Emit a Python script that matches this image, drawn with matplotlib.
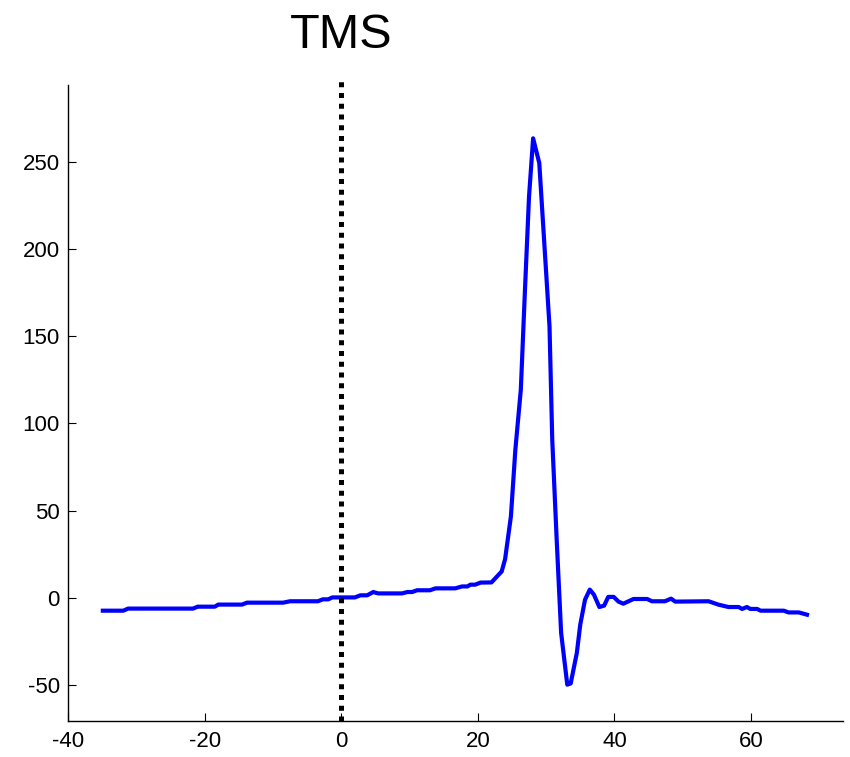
import matplotlib.pyplot as plt
from matplotlib import transforms

plt.rcParams['font.family'] = ['Liberation Sans', 'DejaVu Sans']
plt.rcParams['axes.unicode_minus'] = False  # plain hyphen for negative ticks

# time relative to the pulse (ms) and response amplitude
t = [-34.9, -31.9, -31.2, -21.7, -21.0, -18.5, -18.0, -14.5, -13.8, -8.5,
     -7.5, -3.4, -2.7, -1.9, -1.3, 2.0, 2.8, 3.8, 4.7, 5.4,
     8.9, 9.7, 10.4, 11.1, 13.0, 13.8, 16.7, 17.7, 18.5, 18.9,
     19.6, 20.4, 22.0, 23.5, 24.0, 24.85, 25.5, 26.3, 26.9, 27.5,
     28.1, 29.0, 30.5, 30.9, 31.55, 32.2, 33.1, 33.6, 34.5, 35.0,
     35.7, 36.4, 37.0, 37.8, 38.5, 39.1, 39.9, 40.6, 41.3, 42.8,
     44.8, 45.5, 47.4, 48.3, 48.9, 53.8, 55.2, 56.7, 58.2, 58.7,
     59.4, 59.9, 60.9, 61.4, 64.8, 65.5, 67.0, 68.2]
amp = [-7.3, -7.3, -6.1, -6.1, -5.0, -5.0, -3.8, -3.8, -2.7, -2.7,
       -1.9, -1.9, -0.8, -0.8, 0.3, 0.3, 1.5, 1.5, 3.4, 2.6,
       2.6, 3.4, 3.4, 4.4, 4.4, 5.5, 5.5, 6.6, 6.6, 7.6,
       7.6, 8.8, 8.9, 15.2, 22.3, 46.8, 85.0, 119.4, 176.0, 230.0,
       263.4, 249.3, 155.6, 90.8, 33.4, -20.0, -49.7, -49.0, -31.5, -15.3,
       -1.0, 4.8, 1.9, -5.2, -4.4, 0.6, 0.6, -2.1, -3.3, -0.6,
       -0.6, -1.9, -1.9, -0.4, -2.1, -1.9, -3.8, -5.2, -5.2, -6.3,
       -5.2, -6.3, -6.3, -7.3, -7.3, -8.3, -8.3, -9.6]

fig = plt.figure(figsize=(8.5, 7.57), dpi=100)
ax = fig.add_axes([0.08, 0.0476, 0.912, 0.8402])

ax.plot(t, amp, color='blue', lw=3)
ax.axvline(0, ymin=0, ymax=1.01, color='black', lw=3.6,
           linestyle=(0, (1, 1.15)), dash_capstyle='butt', clip_on=False)

ax.set_xlim(-40, 73.5)
ax.set_ylim(-70.5, 294)
ax.set_xticks([-40, -20, 0, 20, 40, 60])
ax.set_yticks([-50, 0, 50, 100, 150, 200, 250])

for side in ['top', 'right']:
    ax.spines[side].set_visible(False)
for side in ['left', 'bottom']:
    ax.spines[side].set_linewidth(1)
ax.tick_params(direction='in', length=6, width=0.8, labelsize=16)
ax.tick_params(axis='x', pad=7)
ax.tick_params(axis='y', pad=6)

trans = transforms.blended_transform_factory(ax.transData, ax.transAxes)
ax.text(0, 1.058, 'TMS', transform=trans, ha='center', va='baseline',
        fontsize=35)

fig.savefig('out.png', dpi=100)
